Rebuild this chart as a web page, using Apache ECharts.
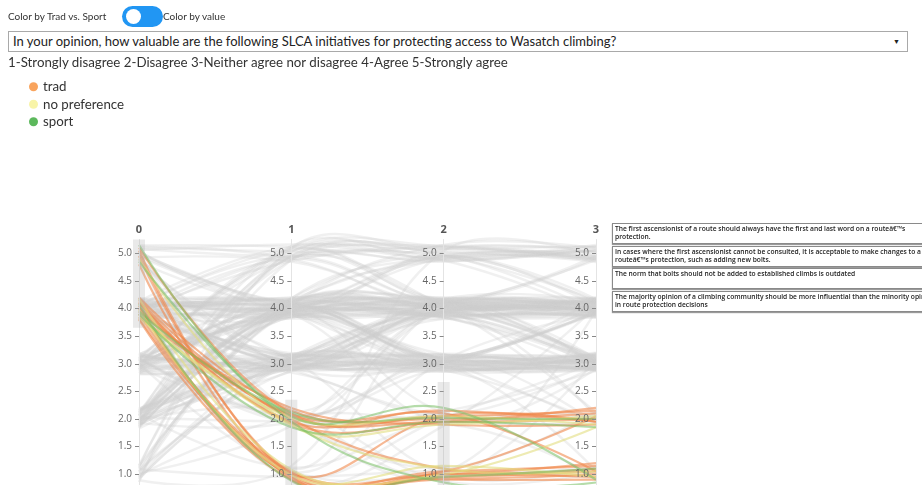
<!DOCTYPE html>
<html>
<head>
<meta charset="utf-8">
<script src="https://cdn.jsdelivr.net/npm/echarts@6/dist/echarts.min.js"></script>
<style>
html,body{margin:0;padding:0;width:922px;height:485px;overflow:hidden;background:#fff;}
#chart{position:absolute;left:0;top:0;width:922px;height:485px;}
.ui{position:absolute;font-family:"Lato","Noto Sans",sans-serif;color:#333;white-space:nowrap;z-index:2;}
#toggle{position:absolute;left:122px;top:6px;width:41px;height:21px;border-radius:11px;background:#2196F3;z-index:2;}
#knob{position:absolute;left:4px;top:3px;width:15px;height:15px;border-radius:50%;background:#fff;}
#select{position:absolute;left:8px;top:31px;width:898px;height:19px;border:1px solid #a9a9a9;background:#fff;z-index:2;
  font-family:"Lato","Noto Sans",sans-serif;font-size:13px;line-height:19px;color:#222;white-space:nowrap;}
#select span.t{position:absolute;left:4px;top:0;}
#select span.a{position:absolute;right:7px;top:0;font-size:7px;color:#222;}
.box{position:absolute;left:612px;width:330px;border:1px solid #8a8a8a;box-shadow:0 1px 1px #9a9a9a;background:#fff;
  font-family:"Open Sans","Noto Sans",sans-serif;font-size:6.7px;line-height:8px;font-weight:600;color:#222;padding:1px 2px;
  white-space:nowrap;overflow:hidden;z-index:2;box-sizing:border-box;height:21px;}
</style>
</head>
<body>
<div id="chart"></div>
<div class="ui" style="left:8px;top:10px;font-size:10px;line-height:13px;">Color by Trad vs. Sport</div>
<div id="toggle"><div id="knob"></div></div>
<div class="ui" style="left:163px;top:10px;font-size:10px;line-height:13px;">Color by value</div>
<div id="select"><span class="t">In your opinion, how valuable are the following SLCA initiatives for protecting access to Wasatch climbing?</span><span class="a">&#9660;</span></div>
<div class="ui" style="left:8px;top:54px;font-size:13.3px;line-height:17px;">1-Strongly disagree 2-Disagree 3-Neither agree nor disagree 4-Agree 5-Strongly agree</div>
<div class="box" style="top:223px;">The first ascensionist of a route should always have the first and last word on a routeâ€™s<br>protection.</div>
<div class="box" style="top:246px;">In cases where the first ascensionist cannot be consulted, it is acceptable to make changes to a<br>routeâ€™s protection, such as adding new bolts.</div>
<div class="box" style="top:268px;">The norm that bolts should not be added to established climbs is outdated</div>
<div class="box" style="top:291px;">The majority opinion of a climbing community should be more influential than the minority opinion<br>in route protection decisions</div>
<script>
// ---- data ----
const dimNames = ['0', '1', '2', '3'];
const tickValues = [1.0, 1.5, 2.0, 2.5, 3.0, 3.5, 4.0, 4.5, 5.0];
const legendNames = ['trad', 'no preference', 'sport'];
const brushRanges = [[3.65, 5.25], [0.75, 2.35], [0.75, 2.67], [0.75, 2.53]];

const tradRows = [
  [5.10, 2.10, 2.05, 2.15],
  [5.05, 0.95, 0.95, 1.05],
  [4.95, 1.00, 1.05, 1.15],
  [4.80, 0.90, 1.00, 0.95],
  [4.20, 2.15, 2.00, 2.10],
  [4.15, 2.05, 1.95, 2.00],
  [4.10, 1.95, 2.10, 1.05],
  [4.05, 1.00, 2.05, 1.95],
  [4.00, 0.95, 0.90, 0.90],
  [3.95, 2.00, 1.10, 1.10],
  [3.90, 1.05, 1.00, 1.20],
  [3.85, 2.20, 1.90, 1.90],
  [3.80, 0.90, 1.05, 2.05],
  [4.12, 1.92, 1.95, 2.20],
  [3.82, 1.02, 0.92, 1.00],
  [4.02, 2.08, 2.15, 1.95]
];
const noPrefRows = [
  [4.90, 1.90, 1.90, 2.05],
  [4.18, 1.08, 1.00, 1.85],
  [3.88, 2.02, 2.05, 1.90],
  [3.98, 0.98, 1.15, 0.95],
  [3.84, 1.88, 1.10, 1.05]
];
const sportRows = [
  [5.15, 2.05, 2.20, 0.90],
  [4.85, 1.95, 0.85, 0.85],
  [3.90, 1.85, 1.95, 1.85],
  [4.08, 0.88, 0.95, 1.10],
  [3.95, 2.12, 2.02, 2.00]
];
const otherRows = [
  [4.12, 4.05, 3.92, 4.18], [3.94, 3.88, 4.10, 3.97], [4.18, 4.15, 4.02, 3.83], [3.86, 3.95, 3.81, 4.07],
  [4.03, 4.19, 4.16, 4.11], [4.09, 2.96, 3.05, 2.88], [3.82, 3.12, 2.86, 3.14], [4.15, 3.04, 3.18, 3.02],
  [3.97, 4.86, 5.12, 4.93], [4.06, 5.08, 4.91, 5.15], [3.91, 3.83, 4.95, 4.04], [4.14, 4.11, 3.08, 2.93],
  [3.88, 3.92, 2.91, 3.19], [4.01, 2.12, 3.96, 4.02], [4.17, 1.05, 3.06, 3.91], [3.84, 4.02, 4.08, 4.88],
  [4.11, 3.17, 4.13, 3.95], [3.93, 2.88, 3.95, 3.06], [4.04, 4.94, 4.06, 4.12], [3.99, 3.97, 3.84, 2.86],
  [2.95, 3.02, 2.97, 3.08], [3.12, 2.91, 3.14, 2.95], [2.86, 3.15, 3.03, 3.17], [3.05, 4.08, 3.89, 3.92],
  [3.18, 3.86, 4.12, 4.06], [2.92, 3.94, 4.01, 3.12], [3.09, 2.05, 2.92, 3.01], [2.83, 4.16, 4.93, 4.84],
  [3.15, 3.08, 4.18, 4.15], [2.97, 2.84, 2.08, 2.96], [3.03, 3.11, 3.82, 3.88], [3.16, 4.12, 3.11, 4.19],
  [2.89, 2.97, 2.88, 1.94], [3.07, 5.04, 4.97, 3.96], [2.94, 3.89, 3.17, 2.91], [3.11, 1.92, 2.14, 2.87],
  [2.82, 3.02, 4.05, 3.03], [3.01, 3.96, 3.97, 4.09], [3.13, 2.93, 3.02, 3.94], [2.90, 4.04, 2.95, 3.10],
  [2.08, 3.05, 3.12, 3.05], [1.91, 4.13, 4.04, 3.86], [2.15, 2.97, 3.86, 2.99], [1.86, 3.91, 3.93, 4.14],
  [2.02, 3.18, 2.99, 3.16], [2.11, 4.88, 5.06, 4.97], [1.94, 4.07, 4.19, 4.03], [2.17, 2.90, 3.07, 3.92],
  [1.83, 3.09, 4.11, 4.08], [2.05, 5.13, 4.88, 5.06], [1.97, 3.84, 3.02, 2.94], [2.13, 4.19, 4.95, 4.11],
  [1.89, 2.95, 2.91, 2.90], [2.06, 3.98, 3.84, 3.07], [1.95, 4.92, 4.13, 4.16], [2.19, 3.14, 3.99, 3.85],
  [1.88, 4.10, 5.15, 5.09], [2.01, 2.99, 3.15, 3.13], [2.12, 3.87, 4.07, 3.98], [1.92, 5.02, 5.02, 4.89],
  [0.92, 3.12, 3.94, 4.01], [1.08, 2.87, 2.96, 3.04], [1.15, 4.05, 4.89, 4.92], [0.86, 5.09, 5.08, 5.13],
  [1.02, 1.88, 4.02, 3.89], [0.97, 3.93, 3.09, 3.18], [1.12, 4.97, 4.14, 4.05], [0.89, 1.15, 5.04, 4.95],
  [1.05, 3.06, 3.88, 2.92], [0.95, 4.18, 4.94, 5.02], [4.94, 4.03, 4.08, 3.94], [5.08, 4.95, 5.10, 4.86],
  [4.87, 3.01, 3.92, 4.13], [5.14, 5.11, 4.86, 5.08], [4.99, 3.92, 2.94, 3.06], [5.03, 4.14, 4.97, 4.17],
  [4.91, 2.94, 3.04, 3.91], [5.12, 4.90, 3.95, 3.89], [4.84, 3.97, 4.17, 2.98], [5.06, 5.16, 5.14, 5.11],
  [4.07, 4.09, 4.12, 3.09], [3.95, 3.03, 2.89, 2.97], [4.13, 3.90, 3.97, 3.99], [3.87, 4.17, 3.87, 4.12],
  [4.02, 2.92, 4.15, 4.02], [3.90, 3.16, 3.01, 3.20], [4.16, 4.01, 4.91, 4.94], [3.83, 3.85, 3.91, 3.87],
  [4.08, 4.12, 3.13, 4.06], [3.96, 3.06, 3.93, 3.03], [2.99, 3.99, 4.03, 4.10], [3.06, 3.08, 2.90, 3.11],
  [2.88, 4.06, 4.16, 3.97], [3.14, 2.95, 3.05, 2.89], [2.93, 3.17, 3.96, 4.18], [3.10, 3.93, 3.83, 3.01],
  [2.85, 2.89, 3.10, 3.07], [3.04, 4.15, 4.07, 4.04], [2.16, 3.04, 2.97, 2.95], [1.85, 3.95, 4.09, 4.13],
  [2.09, 4.02, 3.91, 3.93], [1.93, 3.10, 3.04, 3.15], [2.04, 2.86, 3.94, 3.99], [1.90, 4.11, 4.20, 4.07],
  [2.14, 3.01, 3.08, 2.92], [1.98, 3.94, 2.98, 3.04], [4.10, 1.95, 3.90, 2.04], [3.92, 1.02, 2.02, 3.02],
  [4.05, 2.08, 2.95, 1.06], [3.85, 2.18, 1.04, 3.96], [4.19, 0.90, 1.88, 4.03], [5.02, 1.94, 3.12, 1.92],
  [4.89, 1.10, 4.01, 2.95], [4.97, 2.10, 0.94, 3.08], [3.01, 1.06, 0.98, 1.12], [2.03, 1.96, 2.05, 2.10],
  [1.09, 0.95, 1.06, 0.93], [2.92, 2.02, 1.93, 2.06], [2.10, 1.12, 1.90, 0.96], [3.08, 1.90, 1.12, 2.13],
  [1.99, 2.15, 0.88, 1.03], [0.98, 2.03, 1.97, 1.88], [4.04, 3.90, 1.92, 2.91], [3.98, 4.05, 2.11, 1.97],
  [4.11, 3.08, 1.00, 1.15], [3.89, 2.90, 2.06, 2.05], [4.06, 3.95, 3.06, 1.90], [2.97, 4.93, 4.04, 2.12],
  [4.02, 4.08, 4.04, 4.00], [3.81, 3.99, 4.14, 3.92], [4.19, 3.86, 3.98, 4.16], [3.90, 4.13, 3.85, 3.84],
  [4.10, 4.00, 4.18, 4.09], [3.96, 3.82, 3.93, 4.20], [4.07, 4.16, 4.09, 3.88], [3.87, 3.91, 4.03, 4.01],
  [4.14, 4.04, 3.88, 3.95], [3.93, 4.20, 4.11, 4.13], [4.00, 3.06, 3.90, 3.98], [3.84, 2.93, 4.06, 4.08],
  [4.17, 3.14, 3.96, 3.90], [3.91, 4.09, 3.04, 3.10], [4.05, 3.88, 2.96, 2.90], [2.91, 3.04, 3.06, 3.00],
  [3.07, 2.97, 2.93, 3.12], [2.84, 3.11, 3.17, 2.93], [3.17, 2.88, 3.00, 3.06], [2.98, 3.16, 2.86, 2.88],
  [3.02, 3.91, 3.98, 4.02], [2.87, 4.03, 4.13, 3.94], [3.13, 3.86, 3.90, 4.17], [2.95, 4.18, 4.02, 3.86],
  [3.09, 3.97, 3.86, 4.05], [2.81, 3.01, 3.93, 3.97], [3.19, 2.90, 4.10, 3.09], [2.94, 4.07, 3.04, 2.96],
  [3.05, 3.94, 4.96, 4.90], [2.90, 5.06, 4.09, 4.14], [1.96, 3.02, 3.97, 3.96], [2.07, 4.04, 4.08, 4.11],
  [1.84, 3.97, 3.86, 3.90], [2.18, 3.13, 3.11, 3.04], [1.90, 2.91, 3.00, 2.91], [2.00, 4.12, 3.92, 3.03],
  [2.10, 3.08, 4.06, 4.19], [1.87, 4.95, 4.90, 5.05], [2.15, 3.90, 2.92, 3.14], [1.93, 1.94, 3.03, 3.09],
  [4.96, 4.07, 4.02, 4.10], [5.10, 5.03, 4.95, 4.15], [4.86, 3.09, 3.08, 3.93], [5.04, 4.02, 5.07, 5.02],
  [4.92, 4.85, 4.12, 4.92], [3.89, 4.96, 5.01, 5.04], [4.13, 5.12, 4.87, 3.91], [3.94, 4.90, 4.15, 4.96],
  [2.96, 5.10, 5.13, 4.88], [3.10, 4.91, 4.85, 5.12], [4.04, 3.93, 3.09, 3.05], [3.97, 4.10, 2.99, 2.94],
  [4.09, 3.02, 2.87, 3.16], [3.86, 3.19, 3.16, 2.99], [4.20, 2.99, 3.94, 3.04], [1.10, 3.96, 4.00, 3.95],
  [0.91, 2.99, 3.02, 3.96], [1.04, 4.08, 4.17, 4.18], [0.94, 3.11, 2.94, 2.90], [1.16, 4.88, 5.11, 4.90]
];

// ---- chart ----
const chart = echarts.init(document.getElementById('chart'), null, {renderer: 'canvas'});
const SMOOTH = 0.4;
const FONT = '"Open Sans","Noto Sans",sans-serif';
const BRUSH_FILL = 'rgba(175,175,175,0.28)';

function colored(name, rows, color, op) {
  return {
    type: 'parallel', name: name, data: rows, smooth: SMOOTH,
    lineStyle: {color: color, width: 2.2, opacity: op},
    activeOpacity: op, inactiveOpacity: op,
    emphasis: {disabled: true}, silent: true, z: 3
  };
}

chart.setOption({
  animation: false,
  textStyle: {fontFamily: FONT},
  legend: {
    orient: 'vertical', left: 24, top: 75, itemWidth: 9, itemHeight: 9, itemGap: 4,
    icon: 'circle', selectedMode: false,
    textStyle: {fontFamily: '"Lato","Noto Sans",sans-serif', fontSize: 13.3, color: '#333', lineHeight: 13.5},
    data: [
      {name: legendNames[0], itemStyle: {color: '#f9a45d', borderWidth: 0}},
      {name: legendNames[1], itemStyle: {color: '#f8f4a8', borderWidth: 0}},
      {name: legendNames[2], itemStyle: {color: '#5cb85c', borderWidth: 0}}
    ]
  },
  parallel: {left: 139, right: 326, top: 239.5, bottom: -3, layout: 'horizontal'},
  parallelAxis: dimNames.map(function (d, i) {
    return {
      id: 'a' + i, dim: i, name: d, nameLocation: 'end', nameGap: 4,
      nameTextStyle: {fontFamily: FONT, fontSize: 11, fontWeight: 'bold', color: '#555'},
      min: 0.75, max: 5.25, realtime: true,
      axisLine: {lineStyle: {color: '#e4e4e4', width: 1}},
      axisTick: {show: true, length: -4, customValues: tickValues, lineStyle: {color: '#888'}},
      axisLabel: {customValues: tickValues, formatter: function (v) { return Number(v).toFixed(1); },
        align: 'right', fontFamily: FONT, fontSize: 10, color: '#666', margin: -7},
      splitLine: {show: false},
      areaSelectStyle: {width: 12, borderWidth: 0, borderColor: 'rgba(0,0,0,0)', color: BRUSH_FILL, opacity: 1}
    };
  }),
  series: [
    {
      type: 'parallel', name: 'other', data: otherRows, smooth: SMOOTH,
      lineStyle: {color: '#cccccc', width: 2.4, opacity: 0.3},
      activeOpacity: 0.3, inactiveOpacity: 0.3,
      emphasis: {disabled: true}, silent: true, z: 1
    },
    colored(legendNames[0], tradRows, '#ef8447', 0.58),
    colored(legendNames[1], noPrefRows, '#e3dd80', 0.6),
    colored(legendNames[2], sportRows, '#79c064', 0.55)
  ]
});

brushRanges.forEach(function (r, i) {
  chart.dispatchAction({type: 'axisAreaSelect', parallelAxisId: 'a' + i, intervals: [r]});
});

// The axis brush covers come out in the library's default brush style; restyle them to the reference's light gray.
const coverStyle = {fill: BRUSH_FILL, stroke: 'rgba(0,0,0,0)', lineWidth: 0, opacity: 1};
function restyleCovers() {
  const zr = chart.getZr();
  const roots = zr.storage.getRoots();
  roots.forEach(function (root) {
    root.traverse(function (el) {
      if (el.__brushOption) {
        el.__brushOption.brushStyle = Object.assign({}, el.__brushOption.brushStyle || {}, coverStyle);
        el.eachChild && el.eachChild(function (c) {
          if (c.name === 'main' && c.setStyle) { c.setStyle(coverStyle); }
        });
      }
    });
  });
  zr.refreshImmediately();
}
restyleCovers();
chart.on('finished', restyleCovers);
setTimeout(restyleCovers, 30);
</script>
</body>
</html>
